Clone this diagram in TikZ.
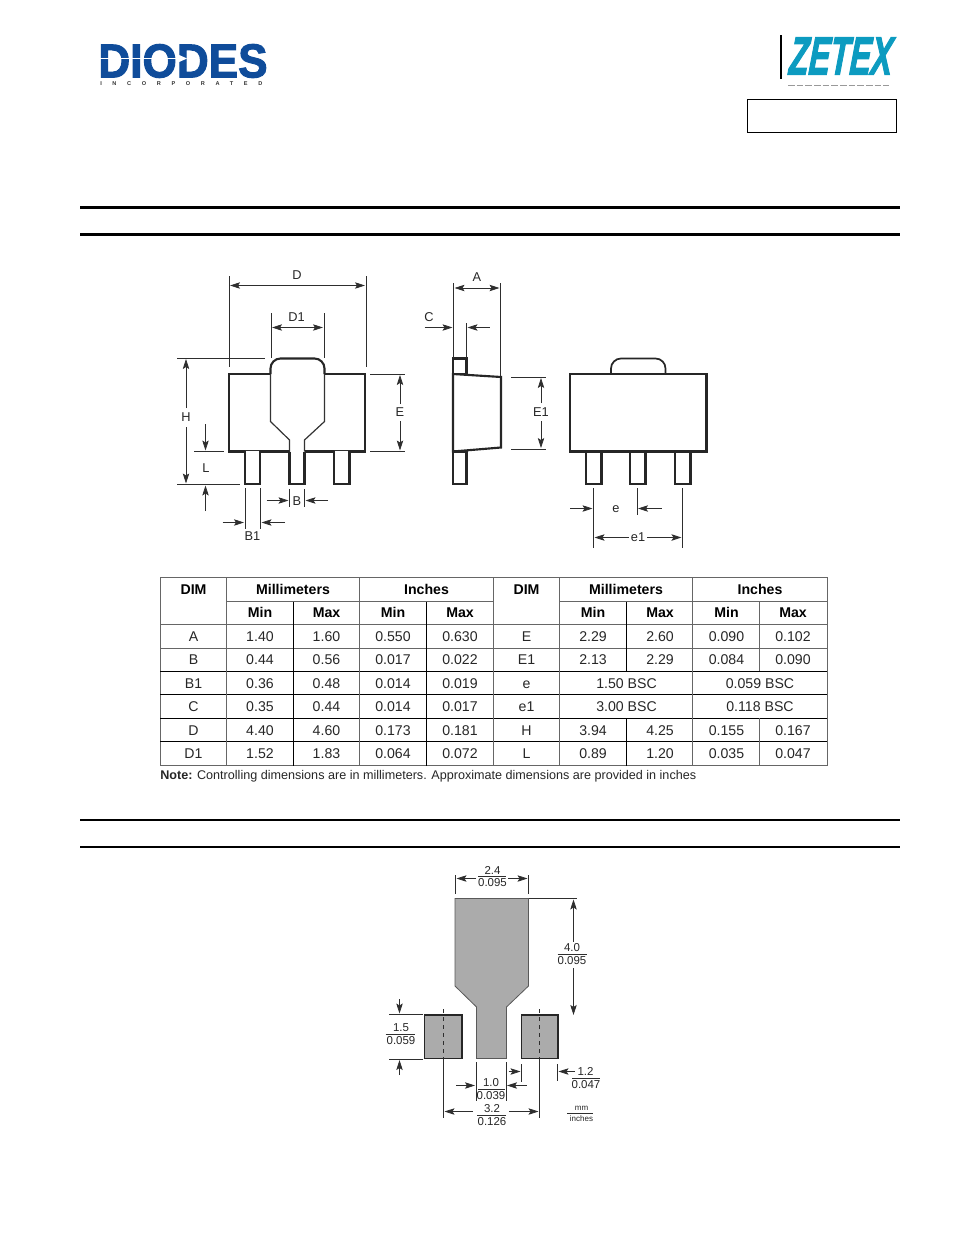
\documentclass[tikz,border=0pt]{standalone}
\usepackage{fontspec}
\setmainfont{Liberation Sans}
\newfontfamily\diodesfont[FakeBold=2.2]{Liberation Sans Bold}
\newfontfamily\zetexfont[FakeBold=2.5,FakeSlant=0.12]{Liberation Sans Bold Italic}
\newfontfamily\incfont[LetterSpace=190]{Liberation Sans Bold}
\usetikzlibrary{arrows.meta}
\definecolor{diodesblue}{HTML}{0F4C9A}
\definecolor{zetexblue}{HTML}{0C9BC0}
\definecolor{dimgrey}{HTML}{2E2E2E}
\definecolor{padgrey}{HTML}{ABABAB}
\tikzset{
  part/.style={line width=1.6pt, black!85},
  thinpart/.style={line width=0.9pt, black!80},
  dimline/.style={line width=0.55pt, dimgrey},
  dimarrow/.style={line width=0.55pt, dimgrey, -{Stealth[length=7.5pt,width=4.8pt,inset=1.5pt]}},
  dimboth/.style={line width=0.55pt, dimgrey, {Stealth[length=7.5pt,width=4.8pt,inset=1.5pt]}-{Stealth[length=7.5pt,width=4.8pt,inset=1.5pt]}},
  rule/.style={line width=2.25pt, black},
  subrule/.style={line width=1.5pt, black},
  grid/.style={line width=0.55pt, black},
  softgrid/.style={line width=0.55pt, black!60},
  cell/.style={inner sep=0pt, text height=7.6pt, text depth=0pt, font=\fontsize{10.6}{12}\selectfont, text=black!85},
  head/.style={inner sep=0pt, text height=7.6pt, text depth=0pt, font=\fontsize{10.6}{12}\selectfont\bfseries},
  dimtext/.style={inner sep=0pt, font=\fontsize{9.6}{11}\selectfont, text=black!85},
  landtext/.style={inner sep=0pt, font=\fontsize{8.6}{10}\selectfont, text=black!85}
}
\begin{document}
\begin{tikzpicture}[x=0.75pt, y=-0.75pt]
  \useasboundingbox (0,0) rectangle (954,1235);

  % Diodes logo
  \node [inner sep=0pt, text=diodesblue, xscale=0.93, font=\fontsize{35.6}{36}\diodesfont] (diodes) at (183,61) {DIODES};
  \draw [white, line width=1.3pt] (100,58.5) -- (180,58.5);
  \fill [white] (178,54.5) -- (187,58.5) -- (178,62.5) -- cycle;
  \node [inner sep=0pt, anchor=west, font=\fontsize{4.2}{5}\incfont, text=black!80] (inc) at (100,83.5) {INCORPORATED};

  % Zetex logo
  \draw [line width=0.8pt, black] (781,35) -- (781,79);
  \node [inner sep=0pt, text=zetexblue, xscale=0.6, font=\fontsize{40}{40}\zetexfont] (zetex) at (840,56) {ZETEX};
  \draw [black!40, line width=0.8pt, dash pattern=on 5pt off 1.5pt] (788,85.5) -- (889,85.5);

  % Empty box
  \draw [line width=0.8pt] (747.5,99.5) rectangle (896.5,132.5);

  % Heading rules
  \draw [rule] (80,207.5) -- (900,207.5);
  \draw [rule] (80,234.5) -- (900,234.5);
  \draw [subrule] (80,820) -- (900,820);
  \draw [subrule] (80,847) -- (900,847);

  % Front view body
  \draw [part] (270.5,374) -- (229,374) -- (229,451.5) -- (289.5,451.5);
  \draw [part] (304.5,451.5) -- (365,451.5) -- (365,374) -- (324.5,374);
  \draw [part, rounded corners=7.5pt] (270.5,374) -- (270.5,358.5) -- (324.5,358.5) -- (324.5,374);
  \draw [thinpart] (270.5,374) -- (270.5,421.5) -- (289.5,440) -- (289.5,451.5);
  \draw [thinpart] (324.5,374) -- (324.5,421.5) -- (304.5,440) -- (304.5,451.5);

  % Front view leads
  \draw [part, fill=white] (245,450.5) -- (245,484) -- (260,484) -- (260,450.5);
  \draw [dimline] (245,450) -- (260,450);
  \draw [part] (289.5,451.5) -- (289.5,484) -- (304.5,484) -- (304.5,451.5);
  \draw [part, fill=white] (334,450.5) -- (334,484) -- (349.5,484) -- (349.5,450.5);
  \draw [dimline] (334,450) -- (349.5,450);

  % D and D1
  \draw [dimline] (229,276) -- (229,367);
  \draw [dimline] (366,276) -- (366,367);
  \node [dimtext] (D) at (297,275) {D};
  \draw [dimboth] (230,285.5) -- (365,285.5);
  \draw [dimline] (271,313) -- (271,358);
  \draw [dimline] (324,313) -- (324,358);
  \node [dimtext] (D1) at (296.5,317) {D1};
  \draw [dimboth] (272,327.5) -- (323,327.5);

  % H and L
  \draw [dimline] (177,358) -- (265,358);
  \draw [dimline] (177,484.5) -- (240,484.5);
  \draw [dimline] (194,451) -- (224,451);
  \node [dimtext] (H) at (186,417) {H};
  \draw [dimarrow] (186,408) -- (186,359);
  \draw [dimarrow] (186,427) -- (186,483.5);
  \node [dimtext] (L) at (206,468) {L};
  \draw [dimarrow] (205.5,424) -- (205.5,450.5);
  \draw [dimarrow] (205.5,511) -- (205.5,485.5);

  % E
  \draw [dimline] (370,374) -- (404.5,374);
  \draw [dimline] (370,451.5) -- (404.5,451.5);
  \node [dimtext] (E) at (400,412) {E};
  \draw [dimarrow] (400,404) -- (400,375);
  \draw [dimarrow] (400,421) -- (400,450.5);

  % B and B1
  \draw [dimline] (289.5,489) -- (289.5,507);
  \draw [dimline] (304.5,489) -- (304.5,507);
  \node [dimtext] (B) at (297,501) {B};
  \draw [dimarrow] (266.5,500.5) -- (288.5,500.5);
  \draw [dimarrow] (328,500.5) -- (305.5,500.5);
  \draw [dimline] (245,488) -- (245,529);
  \draw [dimline] (260.5,488) -- (260.5,529);
  \node [dimtext] (B1) at (252.5,536) {B1};
  \draw [dimarrow] (222.5,522.5) -- (244,522.5);
  \draw [dimarrow] (285,522.5) -- (261.5,522.5);

  % Side view
  \draw [part] (453,358.5) rectangle (466.5,374);
  \draw [part] (453,374) -- (501,377) -- (501,447.5) -- (453,451.5) -- cycle;
  \draw [part] (453,451.5) rectangle (466.5,484);

  % A and C
  \draw [dimline] (453.5,283) -- (453.5,358);
  \draw [dimline] (500.5,283) -- (500.5,376);
  \node [dimtext] (A) at (477,277) {A};
  \draw [dimboth] (454.5,288) -- (499.5,288);
  \draw [dimline] (466.5,323) -- (466.5,358);
  \node [dimtext] (C) at (429,317) {C};
  \draw [dimarrow] (424.5,327.5) -- (452.5,327.5);
  \draw [dimarrow] (489.5,327.5) -- (467.5,327.5);

  % E1
  \draw [dimline] (511,377) -- (546,377);
  \draw [dimline] (511,449) -- (546,449);
  \node [dimtext] (E1) at (541,412) {E1};
  \draw [dimarrow] (541,403) -- (541,378);
  \draw [dimarrow] (541,421) -- (541,448);

  % Rear view
  \draw [part] (570,374) rectangle (706.5,451.5);
  \draw [part, line width=1.3pt, rounded corners=7.5pt] (611,374) -- (611,358.5) -- (665.5,358.5) -- (665.5,374);
  \draw [part] (586,451.5) rectangle (601.5,484);
  \draw [part] (630,451.5) rectangle (645.5,484);
  \draw [part] (675,451.5) rectangle (690.5,484);

  % e and e1
  \draw [dimline] (593.5,488) -- (593.5,548);
  \draw [dimline] (637,488) -- (637,515);
  \draw [dimline] (682.5,488) -- (682.5,548);
  \node [dimtext] (e) at (616,509) {e};
  \draw [dimarrow] (570,508.5) -- (592.5,508.5);
  \draw [dimarrow] (661.5,508.5) -- (638,508.5);
  \node [dimtext] (e1) at (638,537) {e1};
  \draw [dimarrow] (e1.west) ++(-2,0.5) -- (594.5,537.5);
  \draw [dimarrow, line width=0.9pt] (e1.east) ++(2,0.5) -- (681.5,537.5);

  % Table grid
  \draw [softgrid] (160,577.5) rectangle (827,765.5);
  \draw [softgrid] (227,601.5) -- (493.5,601.5);
  \draw [softgrid] (560,601.5) -- (827,601.5);
  \draw [softgrid] (160,624.5) -- (827,624.5);
  \draw [softgrid] (160,648) -- (827,648);
  \draw [grid] (160,671) -- (827,671);
  \draw [grid] (160,694.5) -- (827,694.5);
  \draw [grid] (160,718) -- (827,718);
  \draw [grid] (160,741.5) -- (827,741.5);
  \draw [softgrid] (226.5,577.5) -- (226.5,765.5);
  \draw [softgrid] (359.5,577.5) -- (359.5,765.5);
  \draw [softgrid] (493.5,577.5) -- (493.5,765.5);
  \draw [softgrid] (559.5,577.5) -- (559.5,765.5);
  \draw [softgrid] (692.5,577.5) -- (692.5,765.5);
  \draw [grid] (293.5,601.5) -- (293.5,765.5);
  \draw [grid] (426.5,601.5) -- (426.5,765.5);
  \draw [grid] (626.5,601.5) -- (626.5,671);
  \draw [grid] (626.5,718) -- (626.5,765.5);
  \draw [softgrid] (759.5,601.5) -- (759.5,671);
  \draw [softgrid] (759.5,718) -- (759.5,765.5);

  % Table headers
  \node [head] (dimL) at (193.5,589) {DIM};
  \node [head] (mmL) at (293,589) {Millimeters};
  \node [head] (inL) at (426.5,589) {Inches};
  \node [head] (dimR) at (526.5,589) {DIM};
  \node [head] (mmR) at (626,589) {Millimeters};
  \node [head] (inR) at (760,589) {Inches};
  \node [head] (mmMinL) at (260,612) {Min};
  \node [head] (mmMaxL) at (326.5,612) {Max};
  \node [head] (inMinL) at (393,612) {Min};
  \node [head] (inMaxL) at (460,612) {Max};
  \node [head] (mmMinR) at (593,612) {Min};
  \node [head] (mmMaxR) at (660,612) {Max};
  \node [head] (inMinR) at (726.5,612) {Min};
  \node [head] (inMaxR) at (793,612) {Max};

  % Table left half
  \node [cell] (rowA) at (193.5,636) {A};
  \node [cell] (A1) at (260,636) {1.40};
  \node [cell] (A2) at (326.5,636) {1.60};
  \node [cell] (A3) at (393,636) {0.550};
  \node [cell] (A4) at (460,636) {0.630};
  \node [cell] (rowB) at (193.5,659) {B};
  \node [cell] (B1a) at (260,659) {0.44};
  \node [cell] (B2a) at (326.5,659) {0.56};
  \node [cell] (B3a) at (393,659) {0.017};
  \node [cell] (B4a) at (460,659) {0.022};
  \node [cell] (rowB1) at (193.5,683) {B1};
  \node [cell] (B11) at (260,683) {0.36};
  \node [cell] (B12) at (326.5,683) {0.48};
  \node [cell] (B13) at (393,683) {0.014};
  \node [cell] (B14) at (460,683) {0.019};
  \node [cell] (rowC) at (193.5,706) {C};
  \node [cell] (C1) at (260,706) {0.35};
  \node [cell] (C2) at (326.5,706) {0.44};
  \node [cell] (C3) at (393,706) {0.014};
  \node [cell] (C4) at (460,706) {0.017};
  \node [cell] (rowD) at (193.5,730) {D};
  \node [cell] (D1a) at (260,730) {4.40};
  \node [cell] (D2a) at (326.5,730) {4.60};
  \node [cell] (D3a) at (393,730) {0.173};
  \node [cell] (D4a) at (460,730) {0.181};
  \node [cell] (rowD1) at (193.5,753) {D1};
  \node [cell] (D11) at (260,753) {1.52};
  \node [cell] (D12) at (326.5,753) {1.83};
  \node [cell] (D13) at (393,753) {0.064};
  \node [cell] (D14) at (460,753) {0.072};

  % Table right half
  \node [cell] (rowE) at (526.5,636) {E};
  \node [cell] (E1a) at (593,636) {2.29};
  \node [cell] (E2a) at (660,636) {2.60};
  \node [cell] (E3a) at (726.5,636) {0.090};
  \node [cell] (E4a) at (793,636) {0.102};
  \node [cell] (rowE1) at (526.5,659) {E1};
  \node [cell] (E11) at (593,659) {2.13};
  \node [cell] (E12) at (660,659) {2.29};
  \node [cell] (E13) at (726.5,659) {0.084};
  \node [cell] (E14) at (793,659) {0.090};
  \node [cell] (rowe) at (526.5,683) {e};
  \node [cell] (e2) at (626.5,683) {1.50 BSC};
  \node [cell] (e3) at (760,683) {0.059 BSC};
  \node [cell] (rowe1) at (526.5,706) {e1};
  \node [cell] (e12) at (626.5,706) {3.00 BSC};
  \node [cell] (e13) at (760,706) {0.118 BSC};
  \node [cell] (rowH) at (526.5,730) {H};
  \node [cell] (H1) at (593,730) {3.94};
  \node [cell] (H2) at (660,730) {4.25};
  \node [cell] (H3) at (726.5,730) {0.155};
  \node [cell] (H4) at (793,730) {0.167};
  \node [cell] (rowL) at (526.5,753) {L};
  \node [cell] (L1) at (593,753) {0.89};
  \node [cell] (L2) at (660,753) {1.20};
  \node [cell] (L3) at (726.5,753) {0.035};
  \node [cell] (L4) at (793,753) {0.047};

  % Note
  \node [inner sep=0pt, anchor=west, font=\fontsize{9.45}{11}\selectfont, text=black!85] (note) at (160,776.5) {\textbf{Note:} Controlling dimensions are in millimeters. Approximate dimensions are provided in inches};

  % Land pattern
  \draw [fill=padgrey, draw=black!65, line width=0.6pt] (455,898.5) -- (528.5,898.5) -- (528.5,986) -- (506.5,1007) -- (506.5,1058.5) -- (476.5,1058.5) -- (476.5,1007) -- (455,986) -- cycle;
  \draw [fill=padgrey, draw=black!85, line width=1.1pt] (424.5,1015) rectangle (462,1058.5);
  \draw [fill=padgrey, draw=black!85, line width=1.1pt] (521.5,1015) rectangle (558,1058.5);
  \draw [dimline, dashed] (443.5,1009) -- (443.5,1059);
  \draw [dimline, dashed] (539.5,1009) -- (539.5,1059);
  \draw [dimline] (443.5,1059) -- (443.5,1118);
  \draw [dimline] (539.5,1059) -- (539.5,1118);

  % 2.4 dimension
  \draw [dimline] (455.5,875) -- (455.5,894);
  \draw [dimline] (528.5,875) -- (528.5,894);
  \node [landtext] (wTop) at (492.5,870) {2.4};
  \node [landtext] (wBot) at (492.5,883) {0.095};
  \draw [dimline] (478,876.5) -- (506,876.5);
  \draw [dimarrow] (476,878.5) -- (456.5,878.5);
  \draw [dimarrow] (508,878.5) -- (527.5,878.5);

  % 4.0 dimension
  \draw [dimline] (529,898.5) -- (577,898.5);
  \node [landtext] (hTop) at (572,947.5) {4.0};
  \node [landtext] (hBot) at (572,961) {0.095};
  \draw [dimline] (557.5,954) -- (587,954);
  \draw [dimarrow] (573.5,942) -- (573.5,899.5);
  \draw [dimarrow] (573.5,968) -- (573.5,1015);

  % 1.5 dimension
  \draw [dimline] (389,1014.5) -- (423,1014.5);
  \draw [dimline] (389,1059) -- (423,1059);
  \node [landtext] (pTop) at (401,1028) {1.5};
  \node [landtext] (pBot) at (401,1041) {0.059};
  \draw [dimline] (385.5,1034.5) -- (415,1034.5);
  \draw [dimarrow] (399.5,999) -- (399.5,1013.5);
  \draw [dimarrow] (399.5,1075) -- (399.5,1060);

  % 1.0 dimension and gap
  \draw [dimline] (476,1062) -- (476,1101);
  \draw [dimline] (506,1062) -- (506,1101);
  \draw [dimline] (521.5,1064) -- (521.5,1082);
  \node [landtext] (cTop) at (491,1083) {1.0};
  \node [landtext] (cBot) at (491,1096) {0.039};
  \draw [dimline] (478,1089.5) -- (504.5,1089.5);
  \draw [dimarrow] (456,1085.5) -- (475,1085.5);
  \draw [dimarrow] (526.5,1085.5) -- (507,1085.5);
  \draw [dimarrow] (508.5,1071.5) -- (520.5,1071.5);

  % 1.2 dimension
  \draw [dimline] (557.5,1064) -- (557.5,1081);
  \node [landtext] (gTop) at (585.5,1071.5) {1.2};
  \node [landtext] (gBot) at (586,1084.5) {0.047};
  \draw [dimline] (572,1078) -- (600,1078);
  \draw [dimarrow] (575,1071.5) -- (558.5,1071.5);

  % 3.2 dimension
  \node [landtext] (sTop) at (492,1108.5) {3.2};
  \node [landtext] (sBot) at (492,1122) {0.126};
  \draw [dimline] (477,1115.5) -- (506,1115.5);
  \draw [dimarrow] (473,1111.5) -- (444.5,1111.5);
  \draw [dimarrow] (509,1111.5) -- (538.5,1111.5);

  % Units
  \node [inner sep=0pt, font=\fontsize{6}{7}\selectfont, text=black!85] (unitTop) at (581.5,1108.5) {mm};
  \node [inner sep=0pt, font=\fontsize{6}{7}\selectfont, text=black!85] (unitBot) at (581.5,1118.5) {inches};
  \draw [dimline] (567,1113) -- (593,1113);
\end{tikzpicture}
\end{document}
